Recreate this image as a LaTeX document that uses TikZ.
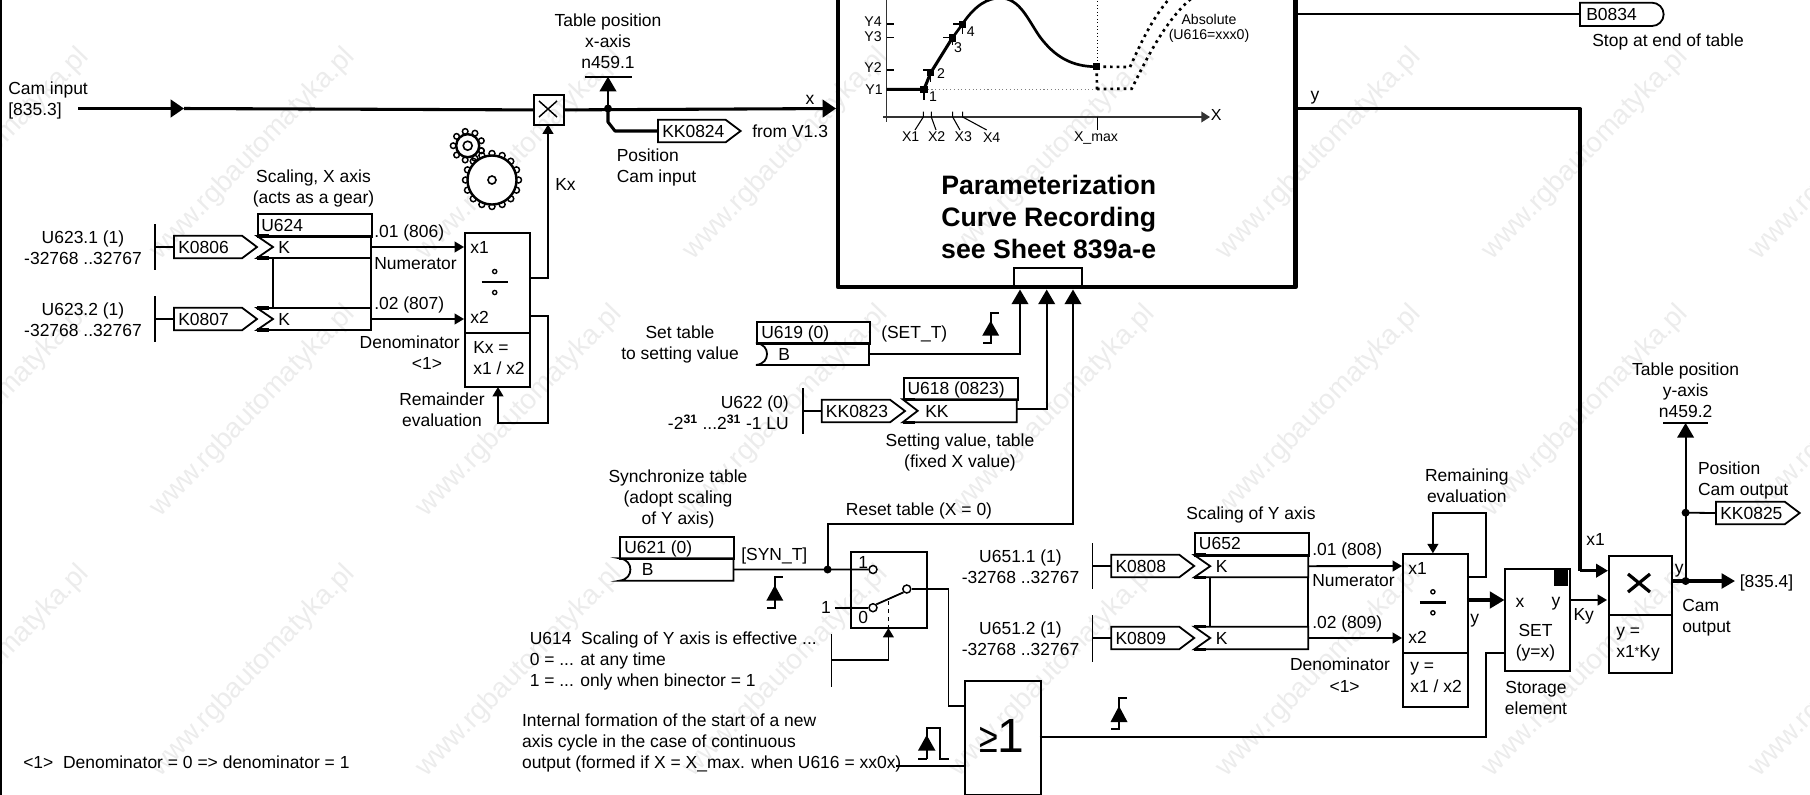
\documentclass[tikz,border=0pt]{standalone}
\usepackage{fontspec}
\setmainfont{Liberation Sans}
\usetikzlibrary{arrows.meta}
\definecolor{wm}{gray}{0.925}
\newcommand\Fsz{\fontsize{13.1}{15.75}\selectfont}
\newcommand\Fch{\fontsize{10.6}{12.6}\selectfont}
\tikzset{
  x=0.75pt,y=-0.75pt,
  lab/.style={inner sep=0pt,font=\Fsz,text height=9.5pt,text depth=0pt},
  labw/.style={lab,anchor=west},
  labe/.style={lab,anchor=east},
  mlab/.style={inner sep=0pt,font=\Fsz,align=center,yshift=-0.9pt},
  mlabl/.style={inner sep=0pt,font=\Fsz,align=left,anchor=west,yshift=-0.9pt},
  mlabr/.style={inner sep=0pt,font=\Fsz,align=right,anchor=east,yshift=-0.9pt},
  chl/.style={inner sep=0pt,font=\Fch,text height=7.6pt,text depth=0pt},
  head/.style={inner sep=0pt,font=\bfseries\fontsize{20}{24}\selectfont,align=center},
  wline/.style={line width=1.35pt,line join=miter},
  fline/.style={line width=1.1pt},
  tline/.style={line width=2.3pt,line join=round},
  smallbox/.style 2 args={draw,line width=1.35pt,inner sep=0pt,anchor=north west,minimum width=#1*0.75pt,minimum height=#2*0.75pt},
  arr/.style={wline,-{Triangle[length=7pt,width=8pt]}},
  barr/.style={wline,-{Triangle[length=11pt,width=12.5pt]}},
  jdot/.style={circle,fill=black,inner sep=0pt,minimum size=6pt},
  contact/.style={circle,draw,line width=1.1pt,fill=white,inner sep=0pt,minimum size=6pt},
  pt/.style={rectangle,fill=black,inner sep=0pt,minimum size=5.5pt},
  edgesym/.style={fill=black,draw=none},
  wmk/.style={inner sep=0pt,text=wm,rotate=46,font=\fontsize{21}{21}\selectfont},
}
% pentagon connector: name, x left, x tip, y centre, text
\newcommand\Pent[5]{%
  \draw[wline] (#2,#4-11.3) -- (#3-15,#4-11.3) -- (#3,#4) -- (#3-15,#4+11.3) -- (#2,#4+11.3) -- cycle;
  \node[labw] (#1) at (#2+4,#4) {#5};
  \coordinate (#1-in) at (#2,#4);}
% input row with chevron notch: name, x left, x right, y top, y bottom, notch depth
\newcommand\Krow[6]{%
  \draw[wline] (#2,#4) -- (#3,#4) -- (#3,#5) -- (#2,#5) -- (#2+#6,#4/2+#5/2) -- cycle;
  \draw[line width=2.3pt] (#2,#4) -- (#2+12,#4) (#2,#5) -- (#2+12,#5);
  \coordinate (#1-e) at (#3,#4/2+#5/2);}
% binector row with curved notch: name, x left, x right, y top, y bottom
\newcommand\Brow[5]{%
  \draw[wline] (#2,#4) -- (#3,#4) -- (#3,#5) -- (#2,#5) .. controls (#2+8,#5-1) and (#2+11,#4/2+#5/2+5) .. (#2+11,#4/2+#5/2) .. controls (#2+11,#4/2+#5/2-5) and (#2+8,#4+1) .. (#2,#4) -- cycle;
  \coordinate (#1-e) at (#3,#4/2+#5/2);}
% edge symbol: x, y top, y bottom
\newcommand\Edge[3]{%
  \draw[wline] (#1+8,#2) -- (#1,#2) -- (#1,#3) -- (#1-8,#3);
  \fill[edgesym] (#1,#2+8) -- (#1+8.5,#3-7) -- (#1-8.5,#3-7) -- cycle;}
% division sign
\newcommand\Divs[2]{%
  \draw[line width=2.2pt] (#1-13,#2) -- (#1+13,#2);
  \draw[line width=1pt] (#1,#2-10.5) circle[radius=2.1] (#1,#2+10.5) circle[radius=2.1];}
\begin{document}
\begin{tikzpicture}
\useasboundingbox (0,0) rectangle (1810,794);
\clip (0,0) rectangle (1810,794);
% watermark
\foreach \i in {0,...,7}{\foreach \j/\yy in {1/154,2/411,3/671}{
  \node[wmk] (wm\i\j) at ({-13.5+266.5*\i},\yy) {www.rgbautomatyka.pl};}}
% left frame
\draw[line width=1.6pt] (1,-2) -- (1,796);

%---------- main box ----------
\coordinate (mtl) at (838,-10);
\coordinate (mbr) at (1295.5,287);
\draw[line width=3.6pt,line join=round] (mtl) rectangle (mbr);
\node[smallbox={68}{20}] (mstub) at (1013,267) {};
% chart
\coordinate (ya0) at (886.7,-2); \coordinate (ya1) at (886.7,121.7);
\coordinate (xa0) at (883,117);  \coordinate (xa1) at (1210,117);
\draw[fline,draw=black!80] (ya0) -- (ya1);
\draw[fline,draw=black!80,-{Triangle[length=6.5pt,width=8pt]}] (xa0) -- (xa1);
\node[chl,anchor=west] (lX) at (1210.5,115) {\fontsize{12}{12}\selectfont X};
\node[pt] (p1) at (924,89.3) {};
\node[pt] (p2) at (930.7,72.7) {};
\node[pt] (p3) at (952.3,38) {};
\node[pt] (p4) at (962.3,24.3) {};
\node[pt] (pm) at (1096.7,66.7) {};
\coordinate (ystart) at (886.7,89.3);
\draw[tline] (ystart) -- (p1.center) -- (p2.center) -- (p3.center);
\draw[line width=2pt] (p3.center) -- (p4.center) .. controls (975,5) and (988,-2) .. (1000,-2) .. controls (1020,-2) and (1028,20) .. (1040,37) .. controls (1055,57) and (1072,66.7) .. (pm.center);
\draw[line width=.8pt,draw=black!50,dotted] (p1.center) -- (1097,89.3);
\draw[line width=.6pt,dotted] (1097.7,-2) -- (1097.7,66);
\draw[fline] (1097.7,117) -- (1097.7,130);
\draw[line width=2pt,dash pattern=on 2pt off 3pt] (pm.center) -- (1097,89.3);
\draw[line width=2pt,dash pattern=on 2pt off 3pt] (pm.center) -- (1130,67) .. controls (1140,45) and (1152,18) .. (1170,-2);
\draw[line width=2pt,dash pattern=on 2pt off 3pt] (1097,89) -- (1131.7,88.7) .. controls (1145,62) and (1165,20) .. (1192,-2);
\draw[fline] (886.7,70) -- (894,70) (886.7,37.3) -- (894,37.3) (886.7,24) -- (894,24);
\draw[line width=.8pt] (923,70) -- (930.7,70) (943,37.3) -- (952,37.3) (953,24) -- (962,24) (924,89) -- (924,100) (930.7,73) -- (930.7,82) (952.7,38) -- (952.7,45) (962.7,24) -- (962.7,34);
\draw[line width=.8pt] (923.3,111.7) -- (923.3,117) -- (915,130) (931.3,111.7) -- (931.3,117) -- (936,130) (952.7,111.7) -- (952.7,117) -- (960,130) (962.7,111.7) -- (962.7,117) -- (986.7,130);
\foreach \n/\t/\xx/\yy in {y1/Y1/874/89.5,y2/Y2/873/67.7,y3/Y3/873/36.7,y4/Y4/873/21.7,x1/X1/910.7/136,x2/X2/936.7/136,x3/X3/963.3/136,x4/X4/991.7/137,n1/1/933/96,n2/2/941/73,n3/3/958/47,n4/4/970.7/31,xm/X\_max/1096/136}
  \node[chl] (\n) at (\xx,\yy) {\t};
\node[inner sep=0pt,font=\Fch,align=center] (abs) at (1209,28.5) {Absolute\\[-.9pt](U616=xxx0)};
\node[head] (ptitle) at (1048.7,217) {Parameterization\\Curve Recording\\see Sheet 839a-e};

%---------- cam input ----------
\node[mlabl] (camin) at (8,99.5) {Cam input\\{}[835.3]};
\coordinate (cam0) at (78,108.5);
\coordinate (camarr) at (184,108.5);
\node[smallbox={30}{30}] (xbox) at (533,94) {};
\draw[line width=1.1pt] (539,101) -- (557,117) (557,101) -- (539,117);
\draw[tline,-{Triangle[length=10pt,width=13pt]}] (cam0) -- (camarr);
\draw[tline] (camarr) -- (xbox.west);
\coordinate (mleft) at (836,108.5);
\draw[tline,-{Triangle[length=10pt,width=13pt]}] (xbox.east) -- (mleft);
\node[lab] (lx) at (810,98) {x};
% table position x
\node[mlab] (tpx) at (608,40) {Table position\\x-axis\\n459.1};
\coordinate (tb0) at (585,76.7); \coordinate (tb1) at (632,76.7);
\draw[wline] (tb0) -- (tb1);
\node[jdot] (jx) at (608,108.5) {};
\draw[barr] (jx.center) -- (608,76.7);
\Pent{kk824}{658}{740.6}{131}{KK0824}
\draw[tline] (jx.center) -- (608,122) -- (615,131) -- (kk824-in);
\node[labw] (fromv) at (752,131) {from V1.3};
\node[mlabl] (poscam) at (616.5,166.5) {Position\\Cam input};

%---------- X scaling ----------
\node[mlab] (scx) at (313.5,187) {Scaling, X axis\\(acts as a gear)};
\node[smallbox={114}{23}] (u624) at (257,213) {};
\node[labw] (u624t) at (261,225) {U624};
\Krow{kx1}{257}{371}{236}{258}{16}
\node[labw] (kx1t) at (278,247) {K};
\Krow{kx2}{257}{371}{308}{330}{16}
\node[labw] (kx2t) at (278,319) {K};
\draw[wline] (273,258) -- (273,308);
\draw[wline] (371,258) -- (371,308);
\Pent{k806}{174}{257}{247}{K0806}
\Pent{k807}{174}{257}{319}{K0807}
\coordinate (bar1a) at (154.6,224); \coordinate (bar1b) at (154.6,270);
\coordinate (bar2a) at (154.6,296); \coordinate (bar2b) at (154.6,342);
\draw[wline] (bar1a) -- (bar1b);
\draw[wline] (bar2a) -- (bar2b);
\draw[wline] (154.6,247) -- (k806-in);
\draw[wline] (154.6,319) -- (k807-in);
\node[mlab] (u6231) at (83,247) {U623.1 (1)\\-32768 ..32767};
\node[mlab] (u6232) at (83,319) {U623.2 (1)\\-32768 ..32767};
\node[labw] (o806) at (374,231) {.01 (806)};
\node[labw] (numx) at (374,263) {Numerator};
\node[labw] (o807) at (374,303) {.02 (807)};
\node[labe] (denx) at (460,342) {Denominator};
\node[lab] (fn1x) at (427,363) {<1>};
% divider
\node[smallbox={65}{100}] (divx) at (464,232) {};
\node[smallbox={65}{54}] (divxb) at (464,332) {};
\node[labw] (dxx1) at (470,247) {x1};
\node[labw] (dxx2) at (470,317) {x2};
\Divs{494.7}{282}
\node[mlabl] (kxeq) at (473,356.5) {Kx =\\x1 / x2};
\draw[arr] (kx1-e) -- (464,247);
\draw[arr] (kx2-e) -- (464,319);
\coordinate (kxup) at (548,124.5);
\draw[arr] (529,278) -- (548,278) -- (kxup);
\node[labw] (kxl) at (555,184) {Kx};
\draw[arr] (529,316) -- (548,316) -- (548,423) -- (498,423) -- (498,387);
\node[mlab] (remx) at (442,408.5) {Remainder\\evaluation};
% gears
\foreach \a in {0,22.5,...,337.5} \draw[line width=1.1pt] (492,180) ++(\a:26.5) circle[radius=3];
\draw[line width=1.8pt,fill=white] (492,180) circle[radius=24.5];
\draw[line width=1.2pt] (492,180) circle[radius=4];
\foreach \a in {20,60,...,380} \draw[line width=1.1pt] (467.7,145.7) ++(\a:14.5) circle[radius=2.8];
\draw[line width=1.8pt,fill=white] (467.7,145.7) circle[radius=11.5];
\draw[line width=1.2pt] (467.7,145.7) circle[radius=4.5];

%---------- set table ----------
\node[mlab] (settab) at (680,343) {Set table\\to setting value};
\node[smallbox={113}{22}] (u619) at (756,321) {};
\node[labw] (u619t) at (761,332) {U619 (0)};
\Brow{b619}{756}{869}{343}{365}
\node[labw] (b619t) at (778,354) {B};
\node[labw] (sett) at (881,332) {(SET\_T)};
\Edge{990.7}{312.7}{342.7}
\coordinate (in1) at (1020,289.5);
\draw[barr] (b619-e) -- (1020,354) -- (in1);
% setting value
\node[mlabr] (u622) at (789,411.5) {U622 (0)\\-2\textsuperscript{\textbf{31}} ...2\textsuperscript{\textbf{31}} -1 LU};
\coordinate (bar3a) at (803,388.3); \coordinate (bar3b) at (803,434);
\draw[wline] (bar3a) -- (bar3b);
\Pent{kk823}{821.7}{905}{411}{KK0823}
\draw[wline] (803,411) -- (kk823-in);
\node[smallbox={114}{22.5}] (u618) at (902.7,376.7) {};
\node[labw] (u618t) at (907.3,388.3) {U618 (0823)};
\Krow{kk618}{902.7}{1016.7}{399.3}{422.3}{15}
\node[labw] (kk618t) at (925,411) {KK};
\coordinate (in2) at (1046.7,289.5);
\draw[barr] (1016.7,409) -- (1046.7,409) -- (in2);
\node[mlab] (setv) at (960,451.5) {Setting value, table\\(fixed X value)};

%---------- sync / reset ----------
\node[mlab] (sync) at (678,497.5) {Synchronize table\\(adopt scaling\\of Y axis)};
\node[smallbox={114}{22.5}] (u621) at (619.4,535.7) {};
\node[labw] (u621t) at (624,546.7) {U621 (0)};
\Brow{b621}{619.4}{733.4}{558.3}{580.7}
\node[labw] (b621t) at (641.6,569.3) {B};
\node[labw] (synt) at (741,554) {[SYN\_T]};
\Edge{774.8}{577.3}{607.7}
\node[jdot] (jr) at (827.6,569.5) {};
\node[lab] (rst) at (919,509) {Reset table (X = 0)};
\node[smallbox={76}{75.7}] (swb) at (850,551) {};
\node[contact] (c1) at (873,569.5) {};
\node[contact] (c0) at (873,607.7) {};
\node[contact] (cs) at (906.8,589) {};
\draw[wline] (b621-e) -- (jr.center) -- (c1.west);
\coordinate (in3) at (1073,289.5);
\draw[barr] (jr.center) -- (827.6,524) -- (1073,524) -- (in3);
\node[labw] (sw1) at (858,561.7) {1};
\node[labw] (sw0) at (858,617) {0};
\node[lab] (swi) at (826,607.5) {1};
\draw[wline] (835,607.7) -- (c0.west);
\draw[wline] (c0.north east) -- (cs.south west);
\draw[wline,dashed] (888.4,601) -- (888.4,628);
\coordinate (ctl) at (888.4,628);
\coordinate (bar4a) at (831.4,634); \coordinate (bar4b) at (831.4,687.3);
\draw[wline] (bar4a) -- (bar4b);
\draw[arr] (831.4,660.3) -- (888.4,660.3) -- (ctl);
\node[mlabl] (u614) at (529.5,659.5) {U614\ \ Scaling of Y axis is effective ...\\0 = ... at any time\\1 = ... only when binector = 1};
% OR
\node[smallbox={76}{114}] (orb) at (963.8,680) {};
\node[inner sep=0pt] (ort) at (1002,736) {\scalebox{0.85}[1.05]{\fontsize{30}{30}\selectfont ≥}{\fontsize{36}{36}\selectfont 1}};
\draw[wline] (cs.east) -- (948.5,589) -- (948.5,706) -- (963.8,706);
\node[mlabl] (intf) at (521.8,742) {Internal formation of the start of a new\\axis cycle in the case of continuous\\output (formed if X = X\_max. when U616 = xx0x)};
\draw[wline] (896,766) -- (963.8,766);
\draw[wline] (926.7,758.7) -- (926.7,728.3) -- (940,728.3) -- (940,758.7) -- (948.5,758.7);
\draw[wline] (926.7,758.7) -- (918,758.7);
\fill[edgesym] (926.7,735) -- (935.5,750.7) -- (917.9,750.7) -- cycle;
\Edge{1119}{698}{729}

%---------- Y scaling ----------
\node[mlab] (u6511) at (1020.5,566) {U651.1 (1)\\-32768 ..32767};
\node[mlab] (u6512) at (1020.5,638) {U651.2 (1)\\-32768 ..32767};
\coordinate (bar5a) at (1092.4,543.3); \coordinate (bar5b) at (1092.4,589.3);
\coordinate (bar6a) at (1092.4,615); \coordinate (bar6b) at (1092.4,661.7);
\draw[wline] (bar5a) -- (bar5b);
\draw[wline] (bar6a) -- (bar6b);
\Pent{k808}{1111.3}{1194.2}{566}{K0808}
\Pent{k809}{1111.3}{1194.2}{638}{K0809}
\draw[wline] (1092.4,566) -- (k808-in);
\draw[wline] (1092.4,638) -- (k809-in);
\node[lab] (scy) at (1251,513.5) {Scaling of Y axis};
\node[smallbox={114}{22.7}] (u652) at (1194.2,532.3) {};
\node[labw] (u652t) at (1198.7,543.5) {U652};
\Krow{ky1}{1194.2}{1308.3}{555}{577.3}{16}
\node[labw] (ky1t) at (1215.5,566) {K};
\Krow{ky2}{1194.2}{1308.3}{626.7}{649.3}{16}
\node[labw] (ky2t) at (1215.5,638) {K};
\draw[wline] (1210,577.3) -- (1210,626.7);
\draw[wline] (1308.3,577.3) -- (1308.3,626.7);
\node[labw] (o808) at (1312,549.3) {.01 (808)};
\node[labw] (numy) at (1312,580) {Numerator};
\node[labw] (o809) at (1312,621.7) {.02 (809)};
\node[lab] (deny) at (1340,664.3) {Denominator};
\node[lab] (fn1y) at (1344.6,686) {<1>};
\node[smallbox={64.8}{99}] (divy) at (1402,553.3) {};
\node[smallbox={64.8}{53.7}] (divyb) at (1402,652.3) {};
\node[labw] (dyx1) at (1408,567.7) {x1};
\node[labw] (dyx2) at (1408,636.7) {x2};
\Divs{1432.9}{602.3}
\node[mlabl] (yeq) at (1410,676.7) {y =\\x1 / x2};
\draw[arr] (ky1-e) -- (1402,566);
\draw[arr] (ky2-e) -- (1402,638);
\node[mlab] (remy) at (1466.8,484.5) {Remaining\\evaluation};
\coordinate (ltop) at (1432.9,553.3);
\draw[arr] (1466.8,576.7) -- (1485.9,576.7) -- (1485.9,513.3) -- (1432.9,513.3) -- (ltop);
% storage
\node[smallbox={64.3}{101.7}] (setb) at (1504.4,568.3) {};
\node[fill=black,inner sep=0pt,anchor=north east,minimum width=11pt,minimum height=13pt] (setc) at (1568.7,568.3) {};
\draw[tline,-{Triangle[length=11pt,width=12.5pt]}] (1466.8,600) -- (setb.west |- 0,600);
\node[labw] (ly) at (1470,616.7) {y};
\node[lab] (setx) at (1520,601) {x};
\node[lab] (sety) at (1556,600) {y};
\node[mlab] (sett2) at (1535.5,641.5) {SET\\(y=x)};
\node[mlab] (stor) at (1536,696.5) {Storage\\element};
\draw[wline] (1039.6,736.7) -- (1486,736.7) -- (1486,652.7) -- (1504.4,652.7);
% multiplier
\node[smallbox={62.7}{59}] (mulb) at (1608,555) {};
\node[smallbox={62.7}{57.7}] (mulc) at (1608,614) {};
\draw[line width=2.4pt] (1628,574) -- (1650,592) (1650,574) -- (1628,592);
\node[mlabl] (yeq2) at (1616,643.3) {y =\\x1{\raisebox{.2ex}{\fontsize{9}{9}\selectfont *}}Ky};
\coordinate (ytop) at (1580,108.7);
\coordinate (x1in) at (1608,570.7);
\draw[tline] (1295.5,108.7) -- (ytop) -- (1580,570.7);
\draw[tline,-{Triangle[length=9pt,width=10pt]}] (1580,570.7) -- (x1in);
\node[lab] (ly2) at (1315,94) {y};
\node[labw] (lx1) at (1586,539.3) {x1};
\draw[arr] (setb.east |- 0,600) -- (1607,600);
\node[labw] (lky) at (1573.3,614) {Ky};
\node[labw] (ly3) at (1674.5,567.3) {y};
\node[jdot] (jo) at (1685.6,581) {};
\node[jdot] (jk) at (1685.6,512.7) {};
\draw[tline,-{Triangle[length=10pt,width=11pt]}] (1670.7,581) -- (1735,581);
\node[labw] (o8354) at (1739.5,581) {[835.4]};
\node[mlabl] (cout) at (1682,616.5) {Cam\\output};
\coordinate (tya) at (1663,423); \coordinate (tyb) at (1708,423);
\draw[wline] (tya) -- (tyb);
\draw[barr] (jo.center) -- (1685.6,423);
\node[mlab] (tpy) at (1685.6,389) {Table position\\y-axis\\n459.2};
\node[mlabl] (posc2) at (1697.8,479) {Position\\Cam output};
\Pent{kk825}{1716}{1799.7}{513}{KK0825}
\draw[wline] (jk.center) -- (kk825-in);

%---------- B0834 ----------
\draw[wline] (1580,2.7) -- (1652,2.7) arc[start angle=-90,end angle=90,radius=11.65] -- (1580,26) -- cycle;
\node[labw] (b834) at (1586,14.3) {B0834};
\coordinate (b834in) at (1580,14.3);
\draw[wline] (1295.5,14.3) -- (b834in);
\node[labw] (stoptb) at (1592,40) {Stop at end of table};
\node[labw] (fnote) at (23,762) {<1>\ \ Denominator = 0 => denominator = 1};
\end{tikzpicture}
\end{document}
